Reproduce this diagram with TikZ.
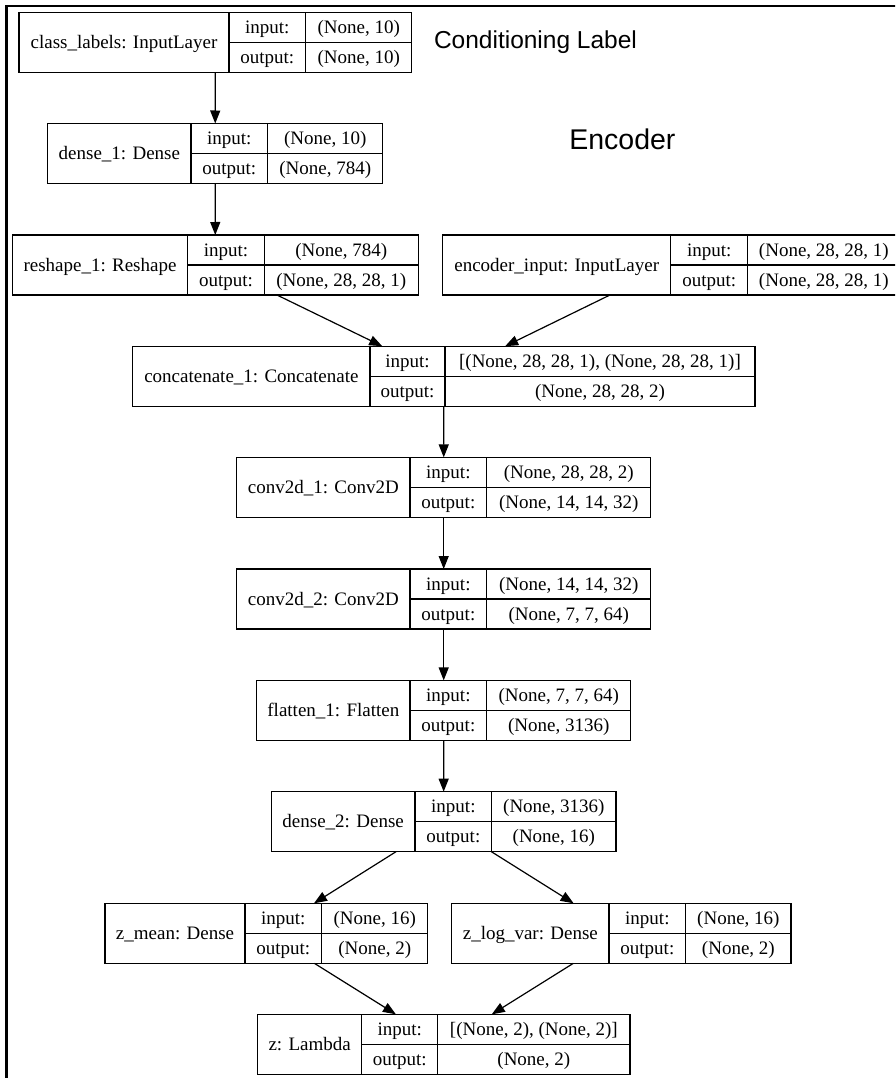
\documentclass[tikz,border=0pt]{standalone}
\usepackage{fontspec}
\setmainfont{Liberation Serif}
\newfontfamily\hfont{Liberation Sans}
\usetikzlibrary{arrows.meta}
\tikzset{
  layer/.style={draw=black, line width=1.2pt, inner sep=0pt, outer sep=0pt, minimum height=60pt, rectangle},
  grid/.style={draw=black, line width=1.2pt},
  txt/.style={inner sep=0pt, outer sep=0pt, anchor=base, font=\fontsize{19}{22}\selectfont},
  arr/.style={draw=black, line width=1.2pt, -{Triangle[length=13pt,width=10pt]}},
  heading/.style={inner sep=0pt, outer sep=0pt, anchor=base west},
  frame/.style={draw=black, line width=2.6pt}
}
\newcommand\layerbox[9]{%
  \pgfmathsetmacro\lbw{#5-#2}%
  \pgfmathsetmacro\lbc{(#2+#3)/2}%
  \pgfmathsetmacro\lbi{(#3+#4)/2}%
  \pgfmathsetmacro\lbo{(#4+#5)/2}%
  \node[layer, minimum width=\lbw pt, anchor=north west] (#1) at (#2,#6) {};
  \draw[grid] (#3,#6) -- (#3,#6+60) (#4,#6) -- (#4,#6+60) (#3,#6+30) -- (#5,#6+30);
  \node[txt] (#1-name) at (\lbc,#6+36) {#7};
  \node[txt] (#1-inl) at (\lbi,#6+21) {input:};
  \node[txt] (#1-outl) at (\lbi,#6+51) {output:};
  \node[txt] (#1-in) at (\lbo,#6+21) {#8};
  \node[txt] (#1-out) at (\lbo,#6+51) {#9};
}
\begin{document}
\begin{tikzpicture}[x=1pt,y=-1pt]
\clip (0,0) rectangle (895,1078);
\fill[white] (0,0) rectangle (895,1078);
\draw[frame] (6.5,1085) -- (6.5,6) -- (900,6);

\layerbox{cls}{19}{229}{305.7}{411.7}{12.7}{class\_labels: InputLayer}{(None, 10)}{(None, 10)}
\layerbox{dense1}{47.7}{191}{267.7}{382.7}{123.5}{dense\_1: Dense}{(None, 10)}{(None, 784)}
\layerbox{reshape}{12.3}{187.7}{264.3}{418.3}{235}{reshape\_1: Reshape}{(None, 784)}{(None, 28, 28, 1)}
\layerbox{enc}{442.7}{670.7}{747.7}{900}{235}{encoder\_input: InputLayer}{(None, 28, 28, 1)}{(None, 28, 28, 1)}
\layerbox{concat}{132.7}{370}{445}{755}{346.2}{concatenate\_1: Concatenate}{[(None, 28, 28, 1), (None, 28, 28, 1)]}{(None, 28, 28, 2)}
\layerbox{conv1}{236.7}{410}{486.7}{650.7}{457.4}{conv2d\_1: Conv2D}{(None, 28, 28, 2)}{(None, 14, 14, 32)}
\layerbox{conv2}{236.7}{410}{486.7}{650.7}{569}{conv2d\_2: Conv2D}{(None, 14, 14, 32)}{(None, 7, 7, 64)}
\layerbox{flatten}{256.7}{410}{486.7}{630.7}{680.4}{flatten\_1: Flatten}{(None, 7, 7, 64)}{(None, 3136)}
\layerbox{dense2}{271.3}{415}{491.7}{616}{791.7}{dense\_2: Dense}{(None, 3136)}{(None, 16)}
\layerbox{zmean}{105}{245}{321.7}{427.7}{903.3}{z\_mean: Dense}{(None, 16)}{(None, 2)}
\layerbox{zlog}{451.7}{609}{685.7}{791}{903.3}{z\_log\_var: Dense}{(None, 16)}{(None, 2)}
\layerbox{z}{257.7}{361.7}{437.7}{630}{1014.3}{z: Lambda}{[(None, 2), (None, 2)]}{(None, 2)}

\node[heading, font=\hfont\fontsize{24.5}{27}\selectfont] (condlabel) at (434,48.3) {Conditioning Label};
\node[heading, font=\hfont\fontsize{28.5}{32}\selectfont] (enclabel) at (569.3,150) {Encoder};

\draw[arr] (cls) -- (dense1);
\draw[arr] (dense1) -- (reshape);
\draw[arr] (reshape) -- (concat);
\draw[arr] (enc) -- (concat);
\draw[arr] (concat) -- (conv1);
\draw[arr] (conv1) -- (conv2);
\draw[arr] (conv2) -- (flatten);
\draw[arr] (flatten) -- (dense2);
\draw[arr] (dense2) -- (zmean);
\draw[arr] (dense2) -- (zlog);
\draw[arr] (zmean) -- (z);
\draw[arr] (zlog) -- (z);
\end{tikzpicture}
\end{document}
